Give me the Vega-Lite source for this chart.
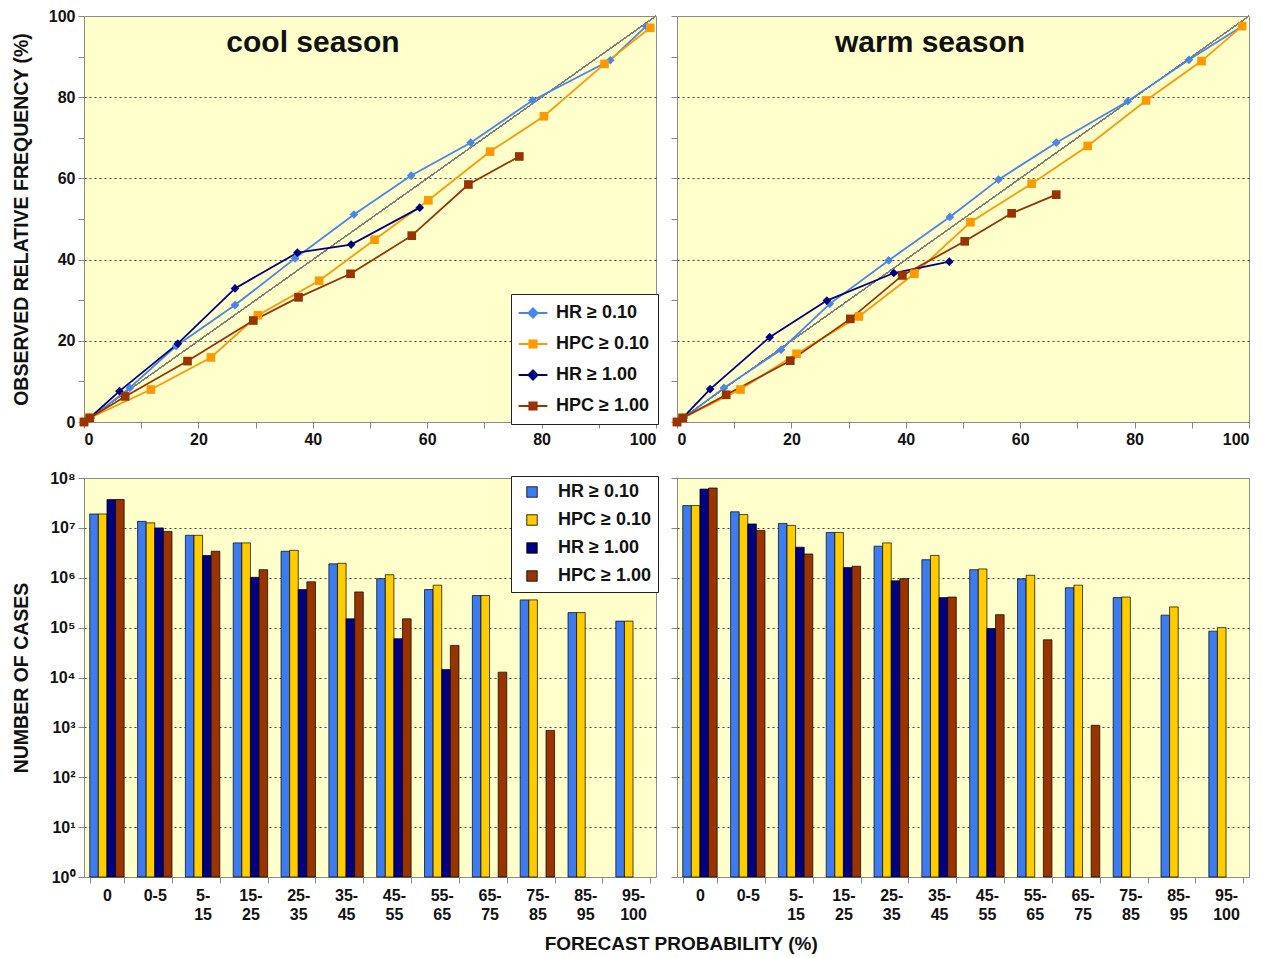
{
  "$schema": "https://vega.github.io/schema/vega-lite/v6.json",
  "padding": {"left": 10, "top": 7, "right": 4, "bottom": 2},
  "background": "white",
  "config": {
    "font": "Liberation Sans",
    "view": {"fill": "#FFFFCC", "stroke": "#8c8c8c", "strokeWidth": 1},
    "axis": {
      "labelFont": "Liberation Sans", "labelFontSize": 16, "labelFontWeight": "bold", "labelColor": "#111",
      "tickColor": "#888", "tickSize": 6, "domain": false,
      "titleFont": "Liberation Sans", "titleFontSize": 19.5, "titleFontWeight": "bold", "titleColor": "#111",
      "gridColor": "#444", "gridDash": [2, 3], "gridWidth": 1.2
    }
  },
  "title": {"text": "FORECAST PROBABILITY (%)", "orient": "bottom", "anchor": "middle", "fontSize": 19, "fontWeight": "bold", "font": "Liberation Sans", "color": "#111", "offset": 12, "dx": 51},
  "resolve": {"scale": {"color": "independent"}},
  "datasets": {
    "rel": [
      {"season": "cool", "series": "HR ≥ 0.10", "p": 0, "o": 0},
      {"season": "cool", "series": "HR ≥ 0.10", "p": 1.2, "o": 1.0},
      {"season": "cool", "series": "HR ≥ 0.10", "p": 8.0, "o": 8.4},
      {"season": "cool", "series": "HR ≥ 0.10", "p": 16.1, "o": 18.7},
      {"season": "cool", "series": "HR ≥ 0.10", "p": 26.4, "o": 28.8},
      {"season": "cool", "series": "HR ≥ 0.10", "p": 36.9, "o": 40.3},
      {"season": "cool", "series": "HR ≥ 0.10", "p": 47.2, "o": 51.1},
      {"season": "cool", "series": "HR ≥ 0.10", "p": 57.2, "o": 60.7},
      {"season": "cool", "series": "HR ≥ 0.10", "p": 67.6, "o": 68.8},
      {"season": "cool", "series": "HR ≥ 0.10", "p": 78.4, "o": 79.2},
      {"season": "cool", "series": "HR ≥ 0.10", "p": 92.0, "o": 89.1},
      {"season": "cool", "series": "HR ≥ 0.10", "p": 98.3, "o": 97.5},
      {"season": "cool", "series": "HPC ≥ 0.10", "p": 0, "o": 0},
      {"season": "cool", "series": "HPC ≥ 0.10", "p": 1.0, "o": 1.0},
      {"season": "cool", "series": "HPC ≥ 0.10", "p": 11.7, "o": 8.0},
      {"season": "cool", "series": "HPC ≥ 0.10", "p": 22.2, "o": 15.9},
      {"season": "cool", "series": "HPC ≥ 0.10", "p": 30.4, "o": 26.3},
      {"season": "cool", "series": "HPC ≥ 0.10", "p": 41.1, "o": 34.8},
      {"season": "cool", "series": "HPC ≥ 0.10", "p": 50.8, "o": 44.9},
      {"season": "cool", "series": "HPC ≥ 0.10", "p": 60.2, "o": 54.6},
      {"season": "cool", "series": "HPC ≥ 0.10", "p": 71.0, "o": 66.6},
      {"season": "cool", "series": "HPC ≥ 0.10", "p": 80.4, "o": 75.3},
      {"season": "cool", "series": "HPC ≥ 0.10", "p": 91.0, "o": 88.2},
      {"season": "cool", "series": "HPC ≥ 0.10", "p": 99.0, "o": 97.1},
      {"season": "cool", "series": "HR ≥ 1.00", "p": 0, "o": 0},
      {"season": "cool", "series": "HR ≥ 1.00", "p": 1.0, "o": 1.0},
      {"season": "cool", "series": "HR ≥ 1.00", "p": 6.2, "o": 7.6},
      {"season": "cool", "series": "HR ≥ 1.00", "p": 16.4, "o": 19.3},
      {"season": "cool", "series": "HR ≥ 1.00", "p": 26.4, "o": 32.9},
      {"season": "cool", "series": "HR ≥ 1.00", "p": 37.3, "o": 41.7},
      {"season": "cool", "series": "HR ≥ 1.00", "p": 46.7, "o": 43.7},
      {"season": "cool", "series": "HR ≥ 1.00", "p": 58.7, "o": 52.8},
      {"season": "cool", "series": "HPC ≥ 1.00", "p": 0, "o": 0},
      {"season": "cool", "series": "HPC ≥ 1.00", "p": 1.0, "o": 1.0},
      {"season": "cool", "series": "HPC ≥ 1.00", "p": 7.2, "o": 6.3},
      {"season": "cool", "series": "HPC ≥ 1.00", "p": 18.1, "o": 15.0},
      {"season": "cool", "series": "HPC ≥ 1.00", "p": 29.6, "o": 25.0},
      {"season": "cool", "series": "HPC ≥ 1.00", "p": 37.5, "o": 30.7},
      {"season": "cool", "series": "HPC ≥ 1.00", "p": 46.6, "o": 36.5},
      {"season": "cool", "series": "HPC ≥ 1.00", "p": 57.3, "o": 45.9},
      {"season": "cool", "series": "HPC ≥ 1.00", "p": 67.2, "o": 58.5},
      {"season": "cool", "series": "HPC ≥ 1.00", "p": 76.1, "o": 65.4},
      {"season": "warm", "series": "HR ≥ 0.10", "p": 0, "o": 0},
      {"season": "warm", "series": "HR ≥ 0.10", "p": 1.2, "o": 1.0},
      {"season": "warm", "series": "HR ≥ 0.10", "p": 8.2, "o": 8.4},
      {"season": "warm", "series": "HR ≥ 0.10", "p": 18.2, "o": 17.8},
      {"season": "warm", "series": "HR ≥ 0.10", "p": 26.7, "o": 29.1},
      {"season": "warm", "series": "HR ≥ 0.10", "p": 37.0, "o": 39.8},
      {"season": "warm", "series": "HR ≥ 0.10", "p": 47.7, "o": 50.5},
      {"season": "warm", "series": "HR ≥ 0.10", "p": 56.2, "o": 59.7},
      {"season": "warm", "series": "HR ≥ 0.10", "p": 66.3, "o": 68.8},
      {"season": "warm", "series": "HR ≥ 0.10", "p": 78.8, "o": 79.0},
      {"season": "warm", "series": "HR ≥ 0.10", "p": 89.5, "o": 89.2},
      {"season": "warm", "series": "HR ≥ 0.10", "p": 98.8, "o": 97.5},
      {"season": "warm", "series": "HPC ≥ 0.10", "p": 0, "o": 0},
      {"season": "warm", "series": "HPC ≥ 0.10", "p": 1.0, "o": 1.0},
      {"season": "warm", "series": "HPC ≥ 0.10", "p": 11.1, "o": 8.0},
      {"season": "warm", "series": "HPC ≥ 0.10", "p": 20.9, "o": 16.8},
      {"season": "warm", "series": "HPC ≥ 0.10", "p": 31.8, "o": 26.0},
      {"season": "warm", "series": "HPC ≥ 0.10", "p": 41.5, "o": 36.5},
      {"season": "warm", "series": "HPC ≥ 0.10", "p": 51.3, "o": 49.2},
      {"season": "warm", "series": "HPC ≥ 0.10", "p": 62.0, "o": 58.7},
      {"season": "warm", "series": "HPC ≥ 0.10", "p": 71.8, "o": 68.0},
      {"season": "warm", "series": "HPC ≥ 0.10", "p": 82.0, "o": 79.2},
      {"season": "warm", "series": "HPC ≥ 0.10", "p": 91.7, "o": 88.9},
      {"season": "warm", "series": "HPC ≥ 0.10", "p": 98.8, "o": 97.5},
      {"season": "warm", "series": "HR ≥ 1.00", "p": 0, "o": 0},
      {"season": "warm", "series": "HR ≥ 1.00", "p": 1.0, "o": 1.0},
      {"season": "warm", "series": "HR ≥ 1.00", "p": 5.8, "o": 8.1},
      {"season": "warm", "series": "HR ≥ 1.00", "p": 16.2, "o": 20.9},
      {"season": "warm", "series": "HR ≥ 1.00", "p": 26.2, "o": 29.9},
      {"season": "warm", "series": "HR ≥ 1.00", "p": 37.9, "o": 36.7},
      {"season": "warm", "series": "HR ≥ 1.00", "p": 47.6, "o": 39.5},
      {"season": "warm", "series": "HPC ≥ 1.00", "p": 0, "o": 0},
      {"season": "warm", "series": "HPC ≥ 1.00", "p": 1.0, "o": 1.0},
      {"season": "warm", "series": "HPC ≥ 1.00", "p": 8.6, "o": 6.7},
      {"season": "warm", "series": "HPC ≥ 1.00", "p": 19.8, "o": 15.1},
      {"season": "warm", "series": "HPC ≥ 1.00", "p": 30.3, "o": 25.4},
      {"season": "warm", "series": "HPC ≥ 1.00", "p": 39.4, "o": 36.1},
      {"season": "warm", "series": "HPC ≥ 1.00", "p": 50.3, "o": 44.5},
      {"season": "warm", "series": "HPC ≥ 1.00", "p": 58.5, "o": 51.4},
      {"season": "warm", "series": "HPC ≥ 1.00", "p": 66.3, "o": 56.0}
    ],
    "cases": [
      {"season": "cool", "bin": "0", "series": "HR ≥ 0.10", "n": 19000000},
      {"season": "cool", "bin": "0", "series": "HPC ≥ 0.10", "n": 19000000},
      {"season": "cool", "bin": "0", "series": "HR ≥ 1.00", "n": 37000000},
      {"season": "cool", "bin": "0", "series": "HPC ≥ 1.00", "n": 37000000},
      {"season": "cool", "bin": "0-5", "series": "HR ≥ 0.10", "n": 13500000},
      {"season": "cool", "bin": "0-5", "series": "HPC ≥ 0.10", "n": 12600000},
      {"season": "cool", "bin": "0-5", "series": "HR ≥ 1.00", "n": 10000000},
      {"season": "cool", "bin": "0-5", "series": "HPC ≥ 1.00", "n": 8500000},
      {"season": "cool", "bin": "5-15", "series": "HR ≥ 0.10", "n": 7100000},
      {"season": "cool", "bin": "5-15", "series": "HPC ≥ 0.10", "n": 7100000},
      {"season": "cool", "bin": "5-15", "series": "HR ≥ 1.00", "n": 2800000},
      {"season": "cool", "bin": "5-15", "series": "HPC ≥ 1.00", "n": 3400000},
      {"season": "cool", "bin": "15-25", "series": "HR ≥ 0.10", "n": 5000000},
      {"season": "cool", "bin": "15-25", "series": "HPC ≥ 0.10", "n": 5000000},
      {"season": "cool", "bin": "15-25", "series": "HR ≥ 1.00", "n": 1020000},
      {"season": "cool", "bin": "15-25", "series": "HPC ≥ 1.00", "n": 1450000},
      {"season": "cool", "bin": "25-35", "series": "HR ≥ 0.10", "n": 3400000},
      {"season": "cool", "bin": "25-35", "series": "HPC ≥ 0.10", "n": 3550000},
      {"season": "cool", "bin": "25-35", "series": "HR ≥ 1.00", "n": 580000},
      {"season": "cool", "bin": "25-35", "series": "HPC ≥ 1.00", "n": 830000},
      {"season": "cool", "bin": "35-45", "series": "HR ≥ 0.10", "n": 1900000},
      {"season": "cool", "bin": "35-45", "series": "HPC ≥ 0.10", "n": 1950000},
      {"season": "cool", "bin": "35-45", "series": "HR ≥ 1.00", "n": 150000},
      {"season": "cool", "bin": "35-45", "series": "HPC ≥ 1.00", "n": 520000},
      {"season": "cool", "bin": "45-55", "series": "HR ≥ 0.10", "n": 960000},
      {"season": "cool", "bin": "45-55", "series": "HPC ≥ 0.10", "n": 1150000},
      {"season": "cool", "bin": "45-55", "series": "HR ≥ 1.00", "n": 60000},
      {"season": "cool", "bin": "45-55", "series": "HPC ≥ 1.00", "n": 150000},
      {"season": "cool", "bin": "55-65", "series": "HR ≥ 0.10", "n": 580000},
      {"season": "cool", "bin": "55-65", "series": "HPC ≥ 0.10", "n": 710000},
      {"season": "cool", "bin": "55-65", "series": "HR ≥ 1.00", "n": 14500},
      {"season": "cool", "bin": "55-65", "series": "HPC ≥ 1.00", "n": 44000},
      {"season": "cool", "bin": "65-75", "series": "HR ≥ 0.10", "n": 440000},
      {"season": "cool", "bin": "65-75", "series": "HPC ≥ 0.10", "n": 440000},
      {"season": "cool", "bin": "65-75", "series": "HPC ≥ 1.00", "n": 12800},
      {"season": "cool", "bin": "75-85", "series": "HR ≥ 0.10", "n": 360000},
      {"season": "cool", "bin": "75-85", "series": "HPC ≥ 0.10", "n": 360000},
      {"season": "cool", "bin": "75-85", "series": "HPC ≥ 1.00", "n": 870},
      {"season": "cool", "bin": "85-95", "series": "HR ≥ 0.10", "n": 200000},
      {"season": "cool", "bin": "85-95", "series": "HPC ≥ 0.10", "n": 200000},
      {"season": "cool", "bin": "95-100", "series": "HR ≥ 0.10", "n": 135000},
      {"season": "cool", "bin": "95-100", "series": "HPC ≥ 0.10", "n": 135000},
      {"season": "warm", "bin": "0", "series": "HR ≥ 0.10", "n": 28000000},
      {"season": "warm", "bin": "0", "series": "HPC ≥ 0.10", "n": 28000000},
      {"season": "warm", "bin": "0", "series": "HR ≥ 1.00", "n": 60000000},
      {"season": "warm", "bin": "0", "series": "HPC ≥ 1.00", "n": 63000000},
      {"season": "warm", "bin": "0-5", "series": "HR ≥ 0.10", "n": 21000000},
      {"season": "warm", "bin": "0-5", "series": "HPC ≥ 0.10", "n": 18500000},
      {"season": "warm", "bin": "0-5", "series": "HR ≥ 1.00", "n": 12000000},
      {"season": "warm", "bin": "0-5", "series": "HPC ≥ 1.00", "n": 8900000},
      {"season": "warm", "bin": "5-15", "series": "HR ≥ 0.10", "n": 12300000},
      {"season": "warm", "bin": "5-15", "series": "HPC ≥ 0.10", "n": 11200000},
      {"season": "warm", "bin": "5-15", "series": "HR ≥ 1.00", "n": 4100000},
      {"season": "warm", "bin": "5-15", "series": "HPC ≥ 1.00", "n": 3000000},
      {"season": "warm", "bin": "15-25", "series": "HR ≥ 0.10", "n": 8100000},
      {"season": "warm", "bin": "15-25", "series": "HPC ≥ 0.10", "n": 8100000},
      {"season": "warm", "bin": "15-25", "series": "HR ≥ 1.00", "n": 1600000},
      {"season": "warm", "bin": "15-25", "series": "HPC ≥ 1.00", "n": 1700000},
      {"season": "warm", "bin": "25-35", "series": "HR ≥ 0.10", "n": 4300000},
      {"season": "warm", "bin": "25-35", "series": "HPC ≥ 0.10", "n": 5000000},
      {"season": "warm", "bin": "25-35", "series": "HR ≥ 1.00", "n": 870000},
      {"season": "warm", "bin": "25-35", "series": "HPC ≥ 1.00", "n": 960000},
      {"season": "warm", "bin": "35-45", "series": "HR ≥ 0.10", "n": 2300000},
      {"season": "warm", "bin": "35-45", "series": "HPC ≥ 0.10", "n": 2800000},
      {"season": "warm", "bin": "35-45", "series": "HR ≥ 1.00", "n": 400000},
      {"season": "warm", "bin": "35-45", "series": "HPC ≥ 1.00", "n": 410000},
      {"season": "warm", "bin": "45-55", "series": "HR ≥ 0.10", "n": 1450000},
      {"season": "warm", "bin": "45-55", "series": "HPC ≥ 0.10", "n": 1500000},
      {"season": "warm", "bin": "45-55", "series": "HR ≥ 1.00", "n": 96000},
      {"season": "warm", "bin": "45-55", "series": "HPC ≥ 1.00", "n": 182000},
      {"season": "warm", "bin": "55-65", "series": "HR ≥ 0.10", "n": 950000},
      {"season": "warm", "bin": "55-65", "series": "HPC ≥ 0.10", "n": 1120000},
      {"season": "warm", "bin": "55-65", "series": "HPC ≥ 1.00", "n": 57000},
      {"season": "warm", "bin": "65-75", "series": "HR ≥ 0.10", "n": 630000},
      {"season": "warm", "bin": "65-75", "series": "HPC ≥ 0.10", "n": 710000},
      {"season": "warm", "bin": "65-75", "series": "HPC ≥ 1.00", "n": 1100},
      {"season": "warm", "bin": "75-85", "series": "HR ≥ 0.10", "n": 400000},
      {"season": "warm", "bin": "75-85", "series": "HPC ≥ 0.10", "n": 410000},
      {"season": "warm", "bin": "85-95", "series": "HR ≥ 0.10", "n": 178000},
      {"season": "warm", "bin": "85-95", "series": "HPC ≥ 0.10", "n": 260000},
      {"season": "warm", "bin": "95-100", "series": "HR ≥ 0.10", "n": 85000},
      {"season": "warm", "bin": "95-100", "series": "HPC ≥ 0.10", "n": 100000}
    ]
  },
  "columns": 2,
  "spacing": {"row": 56, "column": 21},
  "bounds": "flush",
  "concat": [
    {
      "width": 572, "height": 406,
      "data": {"name": "rel"},
      "transform": [{"filter": "datum.season === 'cool'"}],
      "title": {"text": "cool season", "fontSize": 30, "fontWeight": "bold", "font": "Liberation Sans", "color": "#111", "anchor": "middle", "dx": -57, "offset": -74, "baseline": "alphabetic"},
      "layer": [
        {"mark": {"type": "rule", "color": "#808080", "strokeWidth": 1},
         "encoding": {"x": {"datum": 0, "type": "quantitative"}, "y": {"datum": 0, "type": "quantitative"}, "x2": {"datum": 100}, "y2": {"datum": 100}}},
        {"mark": {"type": "line", "strokeWidth": 1.8},
         "encoding": {
           "x": {"field": "p", "type": "quantitative", "scale": {"domain": [0, 100], "nice": false},
                 "axis": {"values": [0,5,10,15,20,25,30,35,40,45,50,55,60,65,70,75,80,85,90,95,100], "labelExpr": "datum.value % 20 === 0 ? datum.label : ''", "title": null, "grid": false, "labelPadding": 3}},
           "y": {"field": "o", "type": "quantitative", "scale": {"domain": [0, 100], "nice": false},
                 "axis": {"values": [0,5,10,15,20,25,30,35,40,45,50,55,60,65,70,75,80,85,90,95,100], "labelExpr": "datum.value % 20 === 0 ? datum.label : ''", "title": "OBSERVED RELATIVE FREQUENCY (%)", "titleX": -63, "titleY": 203, "titleBaseline": "middle", "titleAlign": "center", "grid": true, "labelPadding": 3,
                          "gridOpacity": {"condition": {"test": "datum.value % 20 === 0 && datum.value > 0 && datum.value < 100", "value": 1}, "value": 0}}},
           "color": {"field": "series", "type": "nominal",
                     "scale": {"domain": ["HR ≥ 0.10", "HPC ≥ 0.10", "HR ≥ 1.00", "HPC ≥ 1.00"], "range": ["#4A86E8", "#FF9900", "#000080", "#993300"]},
                     "legend": {"title": null, "orient": "bottom-right", "offset": -2, "fillColor": "white", "strokeColor": "#222", "padding": 9,
                                "labelFontSize": 18, "labelFont": "Liberation Sans", "labelFontWeight": "bold", "labelColor": "#111",
                                "symbolSize": 324, "rowPadding": 12, "labelOffset": 13, "symbolOffset": 3,
                                "encode": {"symbols": {"update": {
                                  "shape": {"signal": "indexof(datum.value, 'HPC') === 0 ? 'M-1.6,0H1.6M-0.4,-0.4H0.4V0.4H-0.4Z' : 'M-1.6,0H1.6M0,-0.5L0.5,0L0,0.5L-0.5,0Z'"},
                                  "fill": {"signal": "datum.value === 'HR ≥ 0.10' ? '#4A86E8' : datum.value === 'HPC ≥ 0.10' ? '#FF9900' : datum.value === 'HR ≥ 1.00' ? '#000080' : '#993300'"},
                                  "stroke": {"signal": "datum.value === 'HR ≥ 0.10' ? '#4A86E8' : datum.value === 'HPC ≥ 0.10' ? '#FF9900' : datum.value === 'HR ≥ 1.00' ? '#000080' : '#993300'"},
                                  "strokeWidth": {"value": 2},
                                  "size": {"value": 324},
                                  "opacity": {"value": 1}
                                }}}}}
         }},
        {"mark": {"type": "point", "filled": true, "opacity": 1},
         "encoding": {
           "x": {"field": "p", "type": "quantitative"},
           "y": {"field": "o", "type": "quantitative"},
           "color": {"field": "series", "type": "nominal", "legend": null},
           "shape": {"field": "series", "type": "nominal", "legend": null,
                     "scale": {"domain": ["HR ≥ 0.10", "HPC ≥ 0.10", "HR ≥ 1.00", "HPC ≥ 1.00"], "range": ["diamond", "square", "diamond", "square"]}},
           "size": {"value": 75}
         }}
      ]
    },
    {
      "width": 572, "height": 406,
      "data": {"name": "rel"},
      "transform": [{"filter": "datum.season === 'warm'"}],
      "title": {"text": "warm season", "fontSize": 30, "fontWeight": "bold", "font": "Liberation Sans", "color": "#111", "anchor": "middle", "dx": -33, "offset": -66, "baseline": "alphabetic"},
      "layer": [
        {"mark": {"type": "rule", "color": "#808080", "strokeWidth": 1},
         "encoding": {"x": {"datum": 0, "type": "quantitative"}, "y": {"datum": 0, "type": "quantitative"}, "x2": {"datum": 100}, "y2": {"datum": 100}}},
        {"mark": {"type": "line", "strokeWidth": 1.8},
         "encoding": {
           "x": {"field": "p", "type": "quantitative", "scale": {"domain": [0, 100], "nice": false},
                 "axis": {"values": [0,5,10,15,20,25,30,35,40,45,50,55,60,65,70,75,80,85,90,95,100], "labelExpr": "datum.value % 20 === 0 ? datum.label : ''", "title": null, "grid": false, "labelPadding": 3}},
           "y": {"field": "o", "type": "quantitative", "scale": {"domain": [0, 100], "nice": false},
                 "axis": {"values": [0,5,10,15,20,25,30,35,40,45,50,55,60,65,70,75,80,85,90,95,100], "labels": false, "title": null, "grid": true,
                          "gridOpacity": {"condition": {"test": "datum.value % 20 === 0 && datum.value > 0 && datum.value < 100", "value": 1}, "value": 0}}},
           "color": {"field": "series", "type": "nominal",
                     "scale": {"domain": ["HR ≥ 0.10", "HPC ≥ 0.10", "HR ≥ 1.00", "HPC ≥ 1.00"], "range": ["#4A86E8", "#FF9900", "#000080", "#993300"]},
                     "legend": null}
         }},
        {"mark": {"type": "point", "filled": true, "opacity": 1},
         "encoding": {
           "x": {"field": "p", "type": "quantitative"},
           "y": {"field": "o", "type": "quantitative"},
           "color": {"field": "series", "type": "nominal", "legend": null},
           "shape": {"field": "series", "type": "nominal", "legend": null,
                     "scale": {"domain": ["HR ≥ 0.10", "HPC ≥ 0.10", "HR ≥ 1.00", "HPC ≥ 1.00"], "range": ["diamond", "square", "diamond", "square"]}},
           "size": {"value": 75}
         }}
      ]
    },
    {
      "width": 572, "height": 399,
      "data": {"name": "cases"},
      "transform": [{"filter": "datum.season === 'cool'"}],
      "mark": {"type": "bar", "stroke": "#000", "strokeWidth": 0.7},
      "encoding": {
        "x": {"field": "bin", "type": "nominal", "sort": ["0", "0-5", "5-15", "15-25", "25-35", "35-45", "45-55", "55-65", "65-75", "75-85", "85-95", "95-100"],
              "scale": {"domain": ["0", "0-5", "5-15", "15-25", "25-35", "35-45", "45-55", "55-65", "65-75", "75-85", "85-95", "95-100"], "paddingInner": 0.28, "paddingOuter": 0.12},
              "axis": {"title": null, "labelAngle": 0, "tickBand": "extent", "labelPadding": 4, "labelLineHeight": 19,
                       "labelExpr": "(datum.label === '0' || datum.label === '0-5') ? datum.label : split(replace(datum.label, '-', '-|'), '|')"}},
        "xOffset": {"field": "series", "type": "nominal", "scale": {"domain": ["HR ≥ 0.10", "HPC ≥ 0.10", "HR ≥ 1.00", "HPC ≥ 1.00"], "paddingInner": 0, "paddingOuter": 0}},
        "y": {"field": "n", "type": "quantitative", "scale": {"type": "log", "domain": [1, 100000000], "nice": false},
              "axis": {"values": [1, 10, 100, 1000, 10000, 100000, 1000000, 10000000, 100000000],
                       "labelExpr": "'10' + ['⁰','¹','²','³','⁴','⁵','⁶','⁷','⁸'][round(log(datum.value) / LN10)]",
                       "title": "NUMBER OF CASES", "titleX": -63, "titleY": 199.5, "titleBaseline": "middle", "titleAlign": "center", "grid": true, "labelPadding": 3,
                       "gridOpacity": {"condition": {"test": "datum.value > 1 && datum.value < 100000000", "value": 1}, "value": 0}}},
        "y2": {"datum": 1},
        "color": {"field": "series", "type": "nominal",
                  "scale": {"domain": ["HR ≥ 0.10", "HPC ≥ 0.10", "HR ≥ 1.00", "HPC ≥ 1.00"], "range": ["#3C7BF0", "#FFCC00", "#000080", "#993300"]},
                  "legend": {"title": null, "orient": "top-right", "offset": -2, "fillColor": "white", "strokeColor": "#222", "padding": 7,
                             "labelFontSize": 18, "labelFont": "Liberation Sans", "labelFontWeight": "bold", "labelColor": "#111",
                             "symbolType": "square", "symbolSize": 110, "symbolStrokeColor": "#000", "symbolStrokeWidth": 0.8, "symbolOffset": 5,
                             "rowPadding": 10, "labelOffset": 17}}
      }
    },
    {
      "width": 572, "height": 399,
      "data": {"name": "cases"},
      "transform": [{"filter": "datum.season === 'warm'"}],
      "mark": {"type": "bar", "stroke": "#000", "strokeWidth": 0.7},
      "encoding": {
        "x": {"field": "bin", "type": "nominal", "sort": ["0", "0-5", "5-15", "15-25", "25-35", "35-45", "45-55", "55-65", "65-75", "75-85", "85-95", "95-100"],
              "scale": {"domain": ["0", "0-5", "5-15", "15-25", "25-35", "35-45", "45-55", "55-65", "65-75", "75-85", "85-95", "95-100"], "paddingInner": 0.28, "paddingOuter": 0.12},
              "axis": {"title": null, "labelAngle": 0, "tickBand": "extent", "labelPadding": 4, "labelLineHeight": 19,
                       "labelExpr": "(datum.label === '0' || datum.label === '0-5') ? datum.label : split(replace(datum.label, '-', '-|'), '|')"}},
        "xOffset": {"field": "series", "type": "nominal", "scale": {"domain": ["HR ≥ 0.10", "HPC ≥ 0.10", "HR ≥ 1.00", "HPC ≥ 1.00"], "paddingInner": 0, "paddingOuter": 0}},
        "y": {"field": "n", "type": "quantitative", "scale": {"type": "log", "domain": [1, 100000000], "nice": false},
              "axis": {"values": [1, 10, 100, 1000, 10000, 100000, 1000000, 10000000, 100000000], "labels": false, "title": null, "grid": true,
                       "gridOpacity": {"condition": {"test": "datum.value > 1 && datum.value < 100000000", "value": 1}, "value": 0}}},
        "y2": {"datum": 1},
        "color": {"field": "series", "type": "nominal",
                  "scale": {"domain": ["HR ≥ 0.10", "HPC ≥ 0.10", "HR ≥ 1.00", "HPC ≥ 1.00"], "range": ["#3C7BF0", "#FFCC00", "#000080", "#993300"]},
                  "legend": null}
      }
    }
  ]
}
